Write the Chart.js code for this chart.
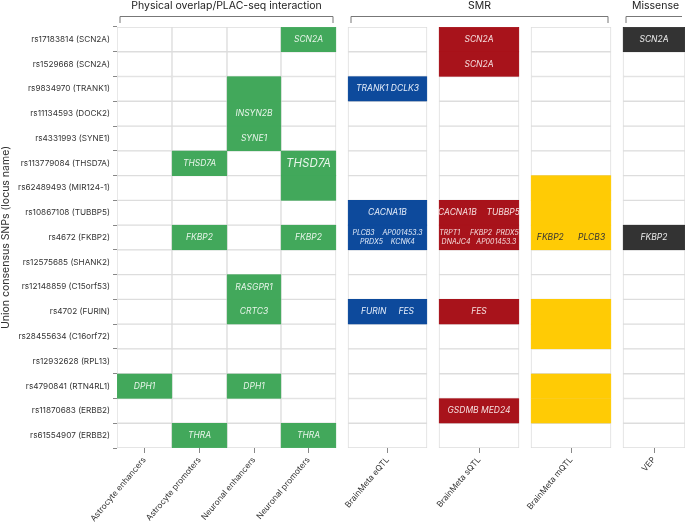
<!DOCTYPE html>
<html><head><meta charset="utf-8">
<script src="https://cdn.jsdelivr.net/npm/chart.js@4/dist/chart.umd.min.js"></script>
<style>html,body{margin:0;padding:0;background:#fff}</style>
</head><body>
<canvas id="c" width="685" height="522"></canvas>
<script>
// ---- data ----
const rows = ['rs17183814 (SCN2A)','rs1529668 (SCN2A)','rs9834970 (TRANK1)','rs11134593 (DOCK2)','rs4331993 (SYNE1)','rs113779084 (THSD7A)','rs62489493 (MIR124-1)','rs10867108 (TUBBP5)','rs4672 (FKBP2)','rs12575685 (SHANK2)','rs12148859 (C15orf53)','rs4702 (FURIN)','rs28455634 (C16orf72)','rs12932628 (RPL13)','rs4790841 (RTN4RL1)','rs11870683 (ERBB2)','rs61554907 (ERBB2)'];
const columns = ['Astrocyte enhancers','Astrocyte promoters','Neuronal enhancers','Neuronal promoters','BrainMeta eQTL','BrainMeta sQTL','BrainMeta mQTL','VEP'];
const groups = ['Physical overlap/PLAC-seq interaction','SMR','Missense'];
// hits per column: [rowIndex, gene label]
const astroEnh = [[14,'DPH1']];
const astroProm = [[5,'THSD7A'],[8,'FKBP2'],[16,'THRA']];
const neurEnh = [[2,''],[3,'INSYN2B'],[4,'SYNE1'],[10,'RASGPR1'],[11,'CRTC3'],[14,'DPH1']];
const neurProm = [[0,'SCN2A'],[5,'THSD7A'],[6,''],[8,'FKBP2'],[16,'THRA']];
const eqtl = [[2,'TRANK1 DCLK3'],[7,'CACNA1B'],[8,'PLCB3    AP001453.3\nPRDX5    KCNK4'],[11,'FURIN     FES']];
const sqtl = [[0,'SCN2A'],[1,'SCN2A'],[7,'CACNA1B    TUBBP5'],[8,'TRPT1     FKBP2  PRDX5\nDNAJC4   AP001453.3'],[11,'FES'],[15,'GSDMB MED24']];
const mqtl = [[6,''],[7,''],[8,'FKBP2      PLCB3'],[11,''],[12,''],[14,''],[15,'']];
const vep = [[0,'SCN2A'],[8,'FKBP2']];
const hits = [astroEnh,astroProm,neurEnh,neurProm,eqtl,sqtl,mqtl,vep];

// ---- layout / style ----
const colEdges = [[0,55],[55,110],[110,164],[164,219],[231,310],[322,402],[414,494],[506,568]];
const colColors = ['#42a85b','#42a85b','#42a85b','#42a85b','#0d4a9c','#a8131b','#ffcb05','#333333'];
const textColors = ['#e8f5ea','#e8f5ea','#e8f5ea','#e8f5ea','#e6eefa','#f6e0e0','#333','#eee'];
const groupSpans = [[0,3],[4,6],[7,7]];
const FONT = 'Inter, "DejaVu Sans", sans-serif';

const datasets = [{
  order: 2,
  data: columns.flatMap((c,ci)=>rows.map(r=>({x:colEdges[ci],y:r}))),
  backgroundColor:'#fff', borderColor:'#dddddd', borderWidth:1, borderSkipped:false
}];
hits.forEach((h,ci)=>{
  datasets.push({
    order: 1,
    data: h.map(([ri,lab])=>({x:colEdges[ci],y:rows[ri],lab})),
    backgroundColor: colColors[ci], borderColor: colColors[ci], borderWidth:0.5, borderSkipped:false,
    textColor: textColors[ci], big: ci===3
  });
});

const labelPlugin = {
  id:'labels',
  afterDatasetsDraw(chart){
    const ctx = chart.ctx;
    chart.data.datasets.forEach((ds,di)=>{
      if(di===0) return;
      const meta = chart.getDatasetMeta(di);
      meta.data.forEach((el,i)=>{
        const lab = ds.data[i].lab; if(!lab) return;
        const p = el.getProps(['x','y','base'],true);
        const cx = (p.x+p.base)/2;
        const lines = lab.split('\n');
        const big = ds.big && lab==='THSD7A';
        ctx.save();
        ctx.fillStyle = ds.textColor;
        ctx.font = 'italic '+(big?11.5:(lines.length>1?7:8.5))+'px '+FONT;
        ctx.textAlign='center'; ctx.textBaseline='middle';
        const lh = 9;
        lines.forEach((t,k)=>ctx.fillText(t,cx,p.y+(k-(lines.length-1)/2)*lh));
        ctx.restore();
      });
    });
  }
};

const headerPlugin = {
  id:'headers',
  afterDraw(chart){
    const ctx = chart.ctx, xs = chart.scales.x;
    ctx.save();
    groupSpans.forEach(([a,b],gi)=>{
      const l = xs.getPixelForValue(colEdges[a][0])+3;
      const r = Math.min(xs.getPixelForValue(colEdges[b][1])-3, chart.width-1);
      ctx.strokeStyle='#777'; ctx.lineWidth=1;
      ctx.beginPath();
      ctx.moveTo(l,23); ctx.lineTo(l,16.5); ctx.lineTo(r,16.5);
      if(gi<2) ctx.lineTo(r,23);
      ctx.stroke();
      ctx.fillStyle='#222'; ctx.font='10.5px '+FONT;
      ctx.textAlign='center'; ctx.textBaseline='middle';
      ctx.fillText(groups[gi], gi===2 ? (l+chart.width)/2 : (l+r)/2, 6);
    });
    ctx.restore();
  }
};

new Chart(document.getElementById('c'),{
  type:'bar',
  data:{labels:rows,datasets},
  options:{
    indexAxis:'y', responsive:false, animation:false, devicePixelRatio:1, events:[],
    layout:{padding:{top:27,right:0,left:0,bottom:0}},
    datasets:{bar:{grouped:false,barPercentage:1,categoryPercentage:1}},
    plugins:{legend:{display:false},tooltip:{enabled:false}},
    scales:{
      x:{type:'linear',min:0,max:568,
        afterBuildTicks(s){ s.ticks = colEdges.map(e=>({value:(e[0]+e[1])/2})); },
        afterFit(s){ s.height = 74; },
        ticks:{autoSkip:false,minRotation:50,maxRotation:50,color:'#333',font:{size:8.3,family:FONT},padding:2,
          callback:(v,i)=>columns[i]},
        grid:{drawOnChartArea:false,drawTicks:true,tickLength:5,color:'#888'},
        border:{display:false}},
      y:{type:'category',
        afterFit(s){ s.width = 117; },
        ticks:{color:'#333',font:{size:8.2,family:FONT},padding:3},
        grid:{drawOnChartArea:false,drawTicks:true,tickLength:4,color:'#888'},
        border:{display:false},
        title:{display:true,text:'Union consensus SNPs (locus name)',color:'#333',font:{size:10.5,family:FONT},padding:0}}
    }
  },
  plugins:[labelPlugin,headerPlugin]
});
</script>
</body></html>
